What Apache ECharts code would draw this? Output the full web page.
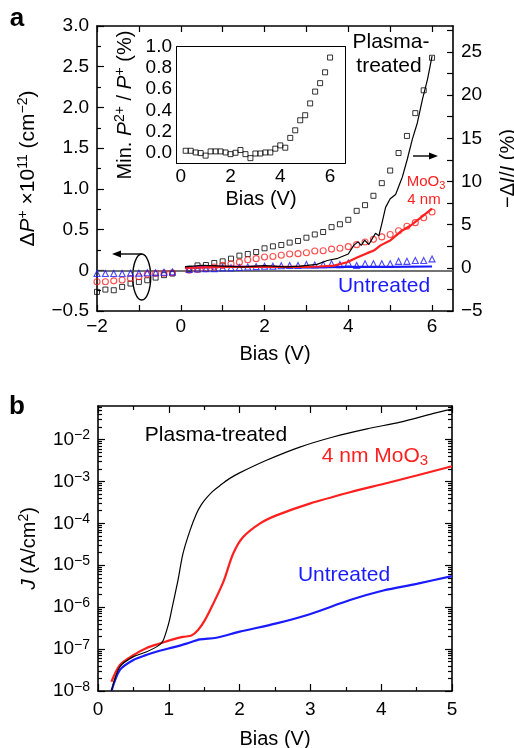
<!DOCTYPE html>
<html>
<head>
<meta charset="utf-8">
<script src="https://cdn.jsdelivr.net/npm/echarts@6/dist/echarts.min.js"></script>
<style>
html, body { margin: 0; padding: 0; background: #fff; }
#chart-container { width: 514px; height: 748px; }
</style>
</head>
<body>
<div id="chart-container"></div>
<script>
// ---- panel a: charge density (squares / circles / triangles, left axis)
const biasNeg = [-2.0, -1.8, -1.6, -1.4, -1.2, -1.0, -0.8, -0.6, -0.4, -0.2];
const biasPos = [0.2, 0.4, 0.6, 0.8, 1.0, 1.2, 1.4, 1.6, 1.8, 2.0, 2.2, 2.4, 2.6, 2.8, 3.0,
                 3.2, 3.4, 3.6, 3.8, 4.0, 4.2, 4.4, 4.6, 4.8, 5.0, 5.2, 5.4, 5.6, 5.8, 6.0];

const dPplasmaNeg = [-0.265, -0.237, -0.245, -0.204, -0.163, -0.143, -0.122, -0.09, -0.06, -0.04];
const dPmoo3Neg = [-0.14, -0.14, -0.13, -0.12, -0.10, -0.08, -0.05, -0.04, -0.035, -0.03];
const dPuntreatedNeg = [-0.04, -0.04, -0.04, -0.04, -0.035, -0.035, -0.03, -0.03, -0.025, -0.02];

const dPplasmaPos = [0.02, 0.06, 0.065, 0.09, 0.11, 0.143, 0.18, 0.20, 0.224, 0.27, 0.294, 0.31, 0.34, 0.36, 0.40,
                     0.44, 0.47, 0.53, 0.565, 0.62, 0.73, 0.80, 0.915, 1.07, 1.225, 1.44, 1.65, 1.93, 2.21, 2.61];
const dPmoo3Pos = [0.0, 0.01, 0.02, 0.04, 0.06, 0.08, 0.10, 0.13, 0.143, 0.163, 0.17, 0.184, 0.20, 0.204, 0.215,
                   0.237, 0.24, 0.26, 0.27, 0.29, 0.315, 0.347, 0.38, 0.41, 0.44, 0.485, 0.54, 0.585, 0.645, 0.715];
const dPuntreatedPos = [0.01, 0.015, 0.02, 0.02, 0.03, 0.03, 0.035, 0.04, 0.045, 0.05, 0.05, 0.055, 0.06, 0.06, 0.07,
                        0.065, 0.07, 0.08, 0.07, 0.09, 0.06, 0.08, 0.08, 0.08, 0.08, 0.11, 0.11, 0.12, 0.12, 0.14];

// ---- panel a: -dI/I lines (right axis, %)
const biasPlasmaLine = [0.1, 0.5, 1.0, 1.5, 2.0, 2.5, 2.85, 3.25, 3.5, 3.75, 4.0, 4.13, 4.23, 4.31, 4.39, 4.49,
                        4.57, 4.65, 4.73, 4.81, 4.89, 5.0, 5.13, 5.21, 5.29, 5.41, 5.53, 5.65, 5.77, 5.89, 6.0];
const dIplasma = [0.1, 0.3, 0.2, 0.1, 0.25, 0.1, 0.2, 0.4, 0.85, 1.1, 1.6, 2.6, 3.0, 2.6, 3.2, 2.7,
                  3.35, 4.0, 3.7, 5.3, 7.0, 8.0, 8.5, 9.5, 10.5, 12.6, 14.9, 16.8, 19.5, 21.8, 24.5];
const biasMoo3Line = [0.1, 1.0, 2.0, 3.0, 3.3, 3.66, 3.97, 4.21, 4.45, 4.61, 4.77, 5.01, 5.25, 5.49, 5.73, 6.0];
const dImoo3 = [0.0, 0.1, 0.1, 0.1, 0.15, 0.25, 0.65, 1.2, 1.7, 2.0, 2.6, 3.2, 4.2, 4.9, 5.8, 6.85];
const biasUntreatedLine = [0.1, 1.0, 2.0, 3.0, 4.0, 5.0, 6.0];
const dIuntreated = [0.05, 0.1, 0.1, 0.05, 0.1, 0.1, 0.15];

// ---- inset: Min. P2+/P+ (%)
const minP2ratio = [0.016, 0.016, 0.0, -0.006, -0.03, 0.01, 0.01, 0.01, 0.0, -0.016, -0.003, 0.023, -0.016, -0.054, -0.01,
                    -0.01, 0.0, 0.0, 0.036, 0.067, 0.045, 0.138, 0.21, 0.305, 0.353, 0.465, 0.577, 0.657, 0.76, 0.9];

// ---- panel b: J-V curves (A/cm2)
const biasJPlasma = [0.19, 0.31, 0.5, 0.68, 0.87, 0.92, 0.97, 1.01, 1.06, 1.13, 1.2, 1.3, 1.39, 1.46, 1.53, 1.62, 1.72,
                     1.85, 2.0, 2.38, 2.85, 3.32, 3.8, 4.27, 4.74, 5.0];
const jPlasma = [1.0e-8, 3.8e-8, 6.6e-8, 8.5e-8, 1.26e-7, 1.6e-7, 2.8e-7, 4.9e-7, 1.23e-6, 4.4e-6, 1.9e-5, 6.8e-5, 1.7e-4, 2.8e-4, 4.0e-4, 5.8e-4, 7.9e-4,
                 1.15e-3, 1.6e-3, 3.2e-3, 6.6e-3, 1.15e-2, 1.8e-2, 2.6e-2, 4.2e-2, 5.3e-2];
const biasJMoo3 = [0.19, 0.31, 0.5, 0.68, 0.87, 1.06, 1.2, 1.32, 1.41, 1.51, 1.63, 1.77, 1.91, 2.05, 2.29, 2.52,
                   2.99, 3.56, 4.03, 4.5, 5.0];
const jMoo3 = [1.66e-8, 4.2e-8, 7.2e-8, 1.05e-7, 1.35e-7, 1.7e-7, 1.95e-7, 2.1e-7, 2.8e-7, 4.9e-7, 1.23e-6, 4.0e-6, 1.9e-5, 4.7e-5, 1.0e-4, 1.55e-4,
               2.95e-4, 5.5e-4, 8.7e-4, 1.38e-3, 2.3e-3];
const biasJUntreated = [0.19, 0.31, 0.5, 0.68, 0.87, 1.06, 1.25, 1.44, 1.67, 2.0, 2.52, 2.99, 3.56, 4.03, 4.5, 5.0];
const jUntreated = [1.0e-8, 3.2e-8, 5.5e-8, 7.2e-8, 9.1e-8, 1.1e-7, 1.35e-7, 1.7e-7, 1.86e-7, 2.6e-7, 4.1e-7, 6.8e-7, 1.48e-6, 2.5e-6, 3.6e-6, 5.5e-6];

// ---- ticks
const xTicksA = [-2, 0, 2, 4, 6];
const xMinorTicksA = [-2, -1, 0, 1, 2, 3, 4, 5, 6];
const rightTicks = [-5, 0, 5, 10, 15, 20, 25];
const rightMinorTicks = [-5, -2.5, 0, 2.5, 5, 7.5, 10, 12.5, 15, 17.5, 20, 22.5, 25, 27.5];
const insetXTicks = [0, 2, 4, 6];
const insetYTicks = [0, 0.2, 0.4, 0.6, 0.8, 1.0];
const jDecades = [1e-8, 1e-7, 1e-6, 1e-5, 1e-4, 1e-3, 1e-2];
const jMinor = [];
jDecades.forEach(function (d) {
  for (let m = 2; m <= 9; m++) { if (m * d <= 0.063) jMinor.push(m * d); }
});

const FONT = '"Liberation Sans", Arial, Helvetica, sans-serif';
const RED = '#ff1f1f';
const BLUE = '#1a1aff';
const MINUS = '\u2212';

function zip(xs, ys) { return xs.map(function (x, i) { return [x, ys[i]]; }); }
function fmt(v, d) { return v.toFixed(d).replace('-', MINUS); }

const rich = {
  i: { fontStyle: 'italic', fontFamily: FONT, fontSize: 21, color: '#000' },
  sup: { fontFamily: FONT, fontSize: 14, color: '#000', verticalAlign: 'top', lineHeight: 12 }
};

function axis(o) {
  const a = {
    type: o.type || 'value',
    gridIndex: o.grid,
    position: o.position,
    min: o.min,
    max: o.max,
    axisLine: { show: o.line !== false, onZero: false, lineStyle: { color: '#000', width: o.lw || 1.6 } },
    axisTick: { show: o.ticks !== false, inside: true, length: o.tickLen || 7, lineStyle: { color: '#000', width: 1.2 } },
    minorTick: { show: !!o.minor, splitNumber: o.minor || 5, length: 4, lineStyle: { color: '#000', width: 1.2 } },
    splitLine: { show: false },
    minorSplitLine: { show: false },
    axisLabel: { show: !!o.label, color: '#000', fontFamily: FONT, fontSize: 19, margin: o.margin || 8,
                 lineHeight: o.labelLineHeight || 18, showMinLabel: true, showMaxLabel: true, hideOverlap: false, rich: rich }
  };
  if (o.interval != null) a.interval = o.interval;
  if (o.tickValues) a.axisTick.customValues = o.tickValues;
  if (o.labelValues) a.axisLabel.customValues = o.labelValues;
  if (o.label) a.axisLabel.formatter = o.label;
  if (o.name) {
    a.name = o.name;
    a.nameLocation = 'middle';
    a.nameGap = o.nameGap;
    a.nameRotate = o.nameRotate || 0;
    a.nameTextStyle = { color: '#000', fontFamily: FONT, fontSize: o.nameSize || 20, lineHeight: 24, rich: rich };
  }
  if (o.type === 'log') a.logBase = 10;
  return a;
}

var dom = document.getElementById('chart-container');
var myChart = echarts.init(dom, null, { renderer: 'canvas' });

function powLabel(v) {
  const e = Math.round(Math.log10(v));
  return '10{sup|' + MINUS + Math.abs(e) + '}';
}

const sq = { symbol: 'rect', symbolSize: 5, itemStyle: { color: 'rgba(0,0,0,0)', borderColor: '#000', borderWidth: 1 } };
const ci = { symbol: 'circle', symbolSize: 6, itemStyle: { color: 'rgba(0,0,0,0)', borderColor: RED, borderWidth: 1.1 } };
const tr = { symbol: 'triangle', symbolSize: 6, itemStyle: { color: 'rgba(0,0,0,0)', borderColor: BLUE, borderWidth: 1.1 } };

function scatter(x, y, style, xi, yi, extra) {
  return Object.assign({ type: 'scatter', xAxisIndex: xi, yAxisIndex: yi, data: zip(x, y), z: 3 }, style, extra || {});
}
function line(x, y, color, width, xi, yi, smooth) {
  return { type: 'line', xAxisIndex: xi, yAxisIndex: yi, data: zip(x, y), showSymbol: false, symbol: 'none',
           smooth: smooth || false, lineStyle: { color: color, width: width }, z: 4 };
}

var option = {
  animation: false,
  backgroundColor: '#fff',
  grid: [
    { left: 97, top: 26, width: 356, height: 285, outerBoundsMode: 'none', containLabel: false },
    { left: 98, top: 406, width: 354, height: 285, outerBoundsMode: 'none', containLabel: false },
    { left: 177, top: 47, width: 168, height: 116, outerBoundsMode: 'none', containLabel: false,
      show: true, backgroundColor: '#fff', borderWidth: 0, z: 5 }
  ],
  xAxis: [
    axis({ grid: 0, position: 'bottom', min: -2, max: 6.5, tickValues: xMinorTicksA, labelValues: xTicksA, tickLen: 6,
           label: function (v) { return fmt(v, 0); }, margin: 7, name: 'Bias (V)', nameGap: 31 }),
    axis({ grid: 0, position: 'top', min: -2, max: 6.5, tickValues: xMinorTicksA, tickLen: 6 }),
    axis({ grid: 1, position: 'bottom', min: 0, max: 5, interval: 1, minor: 2,
           label: function (v) { return fmt(v, 0); }, margin: 10, name: 'Bias (V)', nameGap: 36 }),
    axis({ grid: 1, position: 'top', min: 0, max: 5, interval: 1, minor: 2 }),
    axis({ grid: 2, position: 'bottom', min: -0.15, max: 6.6, tickValues: insetXTicks, labelValues: insetXTicks, lw: 2,
           label: function (v) { return fmt(v, 0); }, margin: 5, name: 'Bias (V)', nameGap: 24 }),
    axis({ grid: 2, position: 'top', min: -0.15, max: 6.6, ticks: false, lw: 2 })
  ],
  yAxis: [
    axis({ grid: 0, position: 'left', min: -0.5, max: 3, interval: 0.5, minor: 2,
           label: function (v) { return v === 0 ? '0' : fmt(v, 1); },
           name: '\u0394{i|P}{sup|+} \u00d710{sup|11} (cm{sup|' + MINUS + '2})', nameGap: 55, nameRotate: 90, nameSize: 21 }),
    axis({ grid: 0, position: 'right', min: -5, max: 28, tickValues: rightMinorTicks, labelValues: rightTicks, tickLen: 6,
           label: function (v) { return fmt(v, 0); },
           name: MINUS + '\u0394{i|I}/{i|I} (%)', nameGap: 43, nameRotate: 90 }),
    axis({ grid: 1, position: 'left', type: 'log', min: 1e-8, max: 0.063, tickValues: jDecades, labelValues: jDecades,
           label: powLabel, labelLineHeight: 22, name: '{i|J} (A/cm{sup|2})', nameGap: 57, nameRotate: 90 }),
    axis({ grid: 1, position: 'right', type: 'log', min: 1e-8, max: 0.063, tickValues: jDecades }),
    axis({ grid: 1, position: 'left', type: 'log', min: 1e-8, max: 0.063, tickValues: jMinor, tickLen: 4, line: false }),
    axis({ grid: 1, position: 'right', type: 'log', min: 1e-8, max: 0.063, tickValues: jMinor, tickLen: 4, line: false }),
    axis({ grid: 2, position: 'left', min: -0.1, max: 1.0, tickValues: insetYTicks, labelValues: insetYTicks, lw: 2,
           label: function (v) { return fmt(v, 1); }, margin: 5, labelLineHeight: 16,
           name: 'Min. {i|P}{sup|2+} / {i|P}{sup|+} (%)', nameGap: 40, nameRotate: 90 }),
    axis({ grid: 2, position: 'right', min: -0.1, max: 1.0, tickValues: insetYTicks, lw: 2 })
  ],
  series: [
    scatter(biasNeg, dPplasmaNeg, sq, 0, 0, {
      markLine: { silent: true, symbol: 'none', label: { show: false }, z: 2,
                  lineStyle: { color: '#444', width: 1.5, type: 'solid' }, data: [{ yAxis: 0 }] }
    }),
    scatter(biasPos, dPplasmaPos, sq, 0, 0),
    scatter(biasNeg, dPmoo3Neg, ci, 0, 0),
    scatter(biasPos, dPmoo3Pos, ci, 0, 0),
    scatter(biasNeg, dPuntreatedNeg, tr, 0, 0),
    scatter(biasPos, dPuntreatedPos, tr, 0, 0),
    line(biasUntreatedLine, dIuntreated, BLUE, 2.2, 0, 1),
    line(biasMoo3Line, dImoo3, RED, 2.2, 0, 1),
    line(biasPlasmaLine, dIplasma, '#000', 1.2, 0, 1),
    line(biasJUntreated, jUntreated, BLUE, 2.2, 2, 2, 0.3),
    line(biasJMoo3, jMoo3, RED, 2.2, 2, 2, 0.3),
    line(biasJPlasma, jPlasma, '#000', 1.2, 2, 2, 0.3),
    scatter(biasPos, minP2ratio, sq, 4, 6, { z: 6 })
  ],
  graphic: [
    { type: 'text', x: 17, y: 19, style: { text: 'a', font: 'bold 26px ' + FONT, fill: '#000', textAlign: 'center', textVerticalAlign: 'middle' } },
    { type: 'text', x: 17, y: 407, style: { text: 'b', font: 'bold 26px ' + FONT, fill: '#000', textAlign: 'center', textVerticalAlign: 'middle' } },
    { type: 'text', x: 391, y: 42, style: { text: 'Plasma-', font: '21px ' + FONT, fill: '#000', textAlign: 'center', textVerticalAlign: 'middle' } },
    { type: 'text', x: 389, y: 66, style: { text: 'treated', font: '21px ' + FONT, fill: '#000', textAlign: 'center', textVerticalAlign: 'middle' } },
    { type: 'text', x: 426, y: 182, style: { text: 'MoO{s|3}', font: '15px ' + FONT, fill: RED, textAlign: 'center', textVerticalAlign: 'middle',
        lineHeight: 18, rich: { s: { font: '11px ' + FONT, fill: RED, verticalAlign: 'bottom', lineHeight: 9 } } } },
    { type: 'text', x: 424, y: 200, style: { text: '4 nm', font: '15px ' + FONT, fill: RED, textAlign: 'center', textVerticalAlign: 'middle' } },
    { type: 'text', x: 384, y: 286, style: { text: 'Untreated', font: '21px ' + FONT, fill: BLUE, textAlign: 'center', textVerticalAlign: 'middle' } },
    { type: 'text', x: 216, y: 435, style: { text: 'Plasma-treated', font: '21px ' + FONT, fill: '#000', textAlign: 'center', textVerticalAlign: 'middle' } },
    { type: 'text', x: 375, y: 456, style: { text: '4 nm MoO{s|3}', font: '21px ' + FONT, fill: RED, textAlign: 'center', textVerticalAlign: 'middle',
        lineHeight: 24, rich: { s: { font: '15px ' + FONT, fill: RED, verticalAlign: 'bottom', lineHeight: 12 } } } },
    { type: 'text', x: 344, y: 575, style: { text: 'Untreated', font: '21px ' + FONT, fill: BLUE, textAlign: 'center', textVerticalAlign: 'middle' } },
    // arrows and ellipse
    { type: 'ellipse', shape: { cx: 141.7, cy: 277, rx: 9, ry: 23 }, style: { fill: 'none', stroke: '#000', lineWidth: 1.4 } },
    { type: 'line', shape: { x1: 141.7, y1: 254, x2: 118, y2: 254 }, style: { stroke: '#000', lineWidth: 1.4 } },
    { type: 'polygon', shape: { points: [[112, 254], [121, 250.5], [121, 257.5]] }, style: { fill: '#000' } },
    { type: 'line', shape: { x1: 413, y1: 156, x2: 432, y2: 156 }, style: { stroke: '#000', lineWidth: 1.4 } },
    { type: 'polygon', shape: { points: [[438, 156], [429, 152.5], [429, 159.5]] }, style: { fill: '#000' } }
  ]
};

if (option && typeof option === 'object') {
  myChart.setOption(option);
}

window.addEventListener('resize', myChart.resize);
</script>
</body>
</html>
